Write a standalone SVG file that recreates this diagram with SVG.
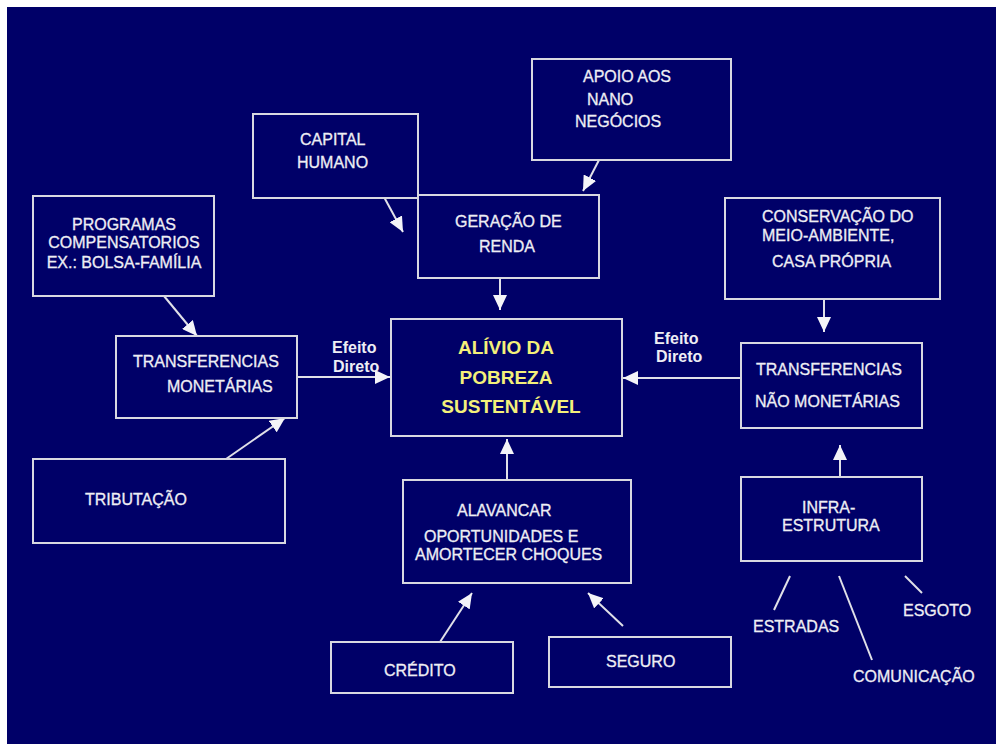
<svg xmlns="http://www.w3.org/2000/svg" width="996" height="744" viewBox="0 0 996 744">
<style>
.box{fill:#000068;stroke:#d8d8e0;stroke-width:2}
.t{font-family:"Liberation Sans",Arial,sans-serif;font-size:16px;fill:#eeeef4;stroke:#eeeef4;stroke-width:0.3}
.y{font-family:"Liberation Sans",Arial,sans-serif;font-size:19px;font-weight:bold;fill:#f4f07a}
.b{font-family:"Liberation Sans",Arial,sans-serif;font-size:16px;font-weight:bold;fill:#eeeef4}
.c{stroke:#e0e0e8;stroke-width:2;fill:none}
.a{marker-end:url(#ah)}
</style>
<defs>
<marker id="ah" markerUnits="userSpaceOnUse" markerWidth="16" markerHeight="14" refX="15" refY="7" orient="auto">
<path d="M0,0 L15,7 L0,14 z" fill="#f4f4f8"/>
</marker>
</defs>
<rect x="0" y="0" width="996" height="744" fill="#ffffff"/>
<rect x="7" y="7" width="989" height="737" fill="#000068"/>

<g id="connectors">
<line class="c a" x1="599" y1="160" x2="583" y2="191"/>
<line class="c a" x1="384" y1="197" x2="403" y2="232"/>
<line class="c a" x1="500" y1="278" x2="500" y2="310"/>
<line class="c a" x1="164" y1="296" x2="197" y2="336"/>
<line class="c a" x1="226" y1="459" x2="285" y2="418"/>
<line class="c a" x1="297" y1="377" x2="390" y2="377"/>
<line class="c a" x1="741" y1="378" x2="623" y2="378"/>
<line class="c a" x1="824" y1="299" x2="824" y2="332"/>
<line class="c a" x1="840" y1="477" x2="840" y2="445"/>
<line class="c a" x1="507" y1="480" x2="507" y2="439"/>
<line class="c a" x1="440" y1="642" x2="472" y2="593"/>
<line class="c a" x1="623" y1="626" x2="588" y2="593"/>
<line class="c" x1="790" y1="576" x2="774" y2="610"/>
<line class="c" x1="839" y1="576" x2="872" y2="660"/>
<line class="c" x1="905" y1="576" x2="922" y2="593"/>
<text class="b" x="332" y="353">Efeito</text>
<text class="b" x="333" y="372">Direto</text>
<text class="b" x="654" y="344">Efeito</text>
<text class="b" x="656" y="362">Direto</text>
</g>

<g id="apoio">
<rect class="box" x="532" y="59" width="199" height="101"/>
<text class="t" x="583" y="82">APOIO AOS</text>
<text class="t" x="587" y="105">NANO</text>
<text class="t" x="575" y="127">NEGÓCIOS</text>
</g>

<g id="capital">
<rect class="box" x="253" y="114" width="165" height="84"/>
<text class="t" x="300" y="145">CAPITAL</text>
<text class="t" x="297" y="168">HUMANO</text>
</g>

<g id="geracao">
<rect class="box" x="418" y="195" width="181" height="83"/>
<text class="t" x="455" y="227">GERAÇÃO DE</text>
<text class="t" x="479" y="252">RENDA</text>
</g>

<g id="programas">
<rect class="box" x="33" y="196" width="181" height="100"/>
<text class="t" x="124" y="230" text-anchor="middle">PROGRAMAS</text>
<text class="t" x="124" y="248" text-anchor="middle">COMPENSATORIOS</text>
<text class="t" x="124" y="268" text-anchor="middle">EX.: BOLSA-FAMÍLIA</text>
</g>

<g id="conservacao">
<rect class="box" x="725" y="198" width="215" height="101"/>
<text class="t" x="762" y="222">CONSERVAÇÃO DO</text>
<text class="t" x="762" y="241">MEIO-AMBIENTE,</text>
<text class="t" x="772" y="267">CASA PRÓPRIA</text>
</g>

<g id="transf-monetarias">
<rect class="box" x="116" y="336" width="181" height="82"/>
<text class="t" x="133" y="367">TRANSFERENCIAS</text>
<text class="t" x="167" y="392">MONETÁRIAS</text>
</g>

<g id="alivio">
<rect class="box" x="391" y="319" width="231" height="117"/>
<text class="y" x="506" y="354" text-anchor="middle">ALÍVIO DA</text>
<text class="y" x="506" y="384" text-anchor="middle">POBREZA</text>
<text class="y" x="511" y="413" text-anchor="middle">SUSTENTÁVEL</text>
</g>

<g id="transf-nao-monetarias">
<rect class="box" x="741" y="343" width="181" height="85"/>
<text class="t" x="756" y="375">TRANSFERENCIAS</text>
<text class="t" x="755" y="407">NÃO MONETÁRIAS</text>
</g>

<g id="tributacao">
<rect class="box" x="33" y="459" width="252" height="84"/>
<text class="t" x="85" y="505">TRIBUTAÇÃO</text>
</g>

<g id="alavancar">
<rect class="box" x="403" y="480" width="228" height="103"/>
<text class="t" x="457" y="516">ALAVANCAR</text>
<text class="t" x="424" y="542">OPORTUNIDADES E</text>
<text class="t" x="415" y="560">AMORTECER CHOQUES</text>
</g>

<g id="infra">
<rect class="box" x="741" y="477" width="181" height="84"/>
<text class="t" x="802" y="513">INFRA-</text>
<text class="t" x="782" y="531">ESTRUTURA</text>
</g>

<g id="estradas"><text class="t" x="753" y="632">ESTRADAS</text></g>
<g id="esgoto"><text class="t" x="903" y="616">ESGOTO</text></g>
<g id="comunicacao"><text class="t" x="853" y="682">COMUNICAÇÃO</text></g>

<g id="credito">
<rect class="box" x="331" y="642" width="182" height="51"/>
<text class="t" x="384" y="676">CRÉDITO</text>
</g>

<g id="seguro">
<rect class="box" x="549" y="637" width="182" height="50"/>
<text class="t" x="606" y="667">SEGURO</text>
</g>
</svg>
